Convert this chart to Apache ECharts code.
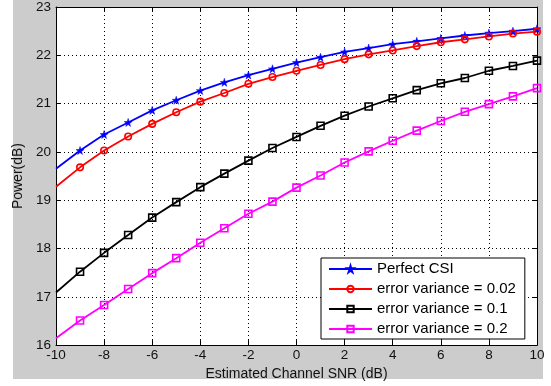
<!DOCTYPE html>
<html>
<head>
<meta charset="utf-8">
<script src="https://cdn.jsdelivr.net/npm/echarts@6/dist/echarts.min.js"></script>
<style>
  html, body { margin: 0; padding: 0; background: #fff; }
  #chart { width: 551px; height: 386px; }
</style>
</head>
<body>
<div id="chart"></div>
<script>
// estimated channel SNR (dB)
const snr = [-10, -9, -8, -7, -6, -5, -4, -3, -2, -1, 0, 1, 2, 3, 4, 5, 6, 7, 8, 9, 10];

// power (dB)
const perfectCsi = [19.65, 20.03, 20.36, 20.61, 20.86, 21.07, 21.27, 21.44, 21.59, 21.72, 21.85, 21.96, 22.07, 22.15, 22.23, 22.29, 22.35, 22.41, 22.46, 22.50, 22.55];
const errVar002 = [19.28, 19.68, 20.03, 20.32, 20.58, 20.82, 21.04, 21.22, 21.41, 21.55, 21.68, 21.80, 21.92, 22.02, 22.10, 22.19, 22.27, 22.33, 22.39, 22.45, 22.49];
const errVar01 = [17.09, 17.52, 17.91, 18.28, 18.64, 18.96, 19.27, 19.55, 19.82, 20.08, 20.31, 20.54, 20.75, 20.94, 21.11, 21.28, 21.42, 21.53, 21.68, 21.78, 21.89];
const errVar02 = [16.14, 16.51, 16.83, 17.16, 17.49, 17.80, 18.12, 18.42, 18.72, 18.97, 19.26, 19.51, 19.78, 20.01, 20.23, 20.44, 20.64, 20.83, 20.99, 21.15, 21.32];

const seriesNames = ['Perfect CSI', 'error variance = 0.02', 'error variance = 0.1', 'error variance = 0.2'];

const starPath = 'path://M50,0 L61,35 L98,35 L68,57 L79,91 L50,70 L21,91 L32,57 L2,35 L39,35 Z';
const font = 'Liberation Sans';

const chart = echarts.init(document.getElementById('chart'), null, { renderer: 'canvas' });

// the first point sits on the left box edge and shows no marker in the original
function pairs(vals) {
  return snr.map((x, i) => (i === 0 ? { value: [x, vals[i]], symbol: 'none' } : [x, vals[i]]));
}

function makeSeries(name, vals, color, symbol, size, hollow) {
  return {
    name: name,
    type: 'line',
    data: pairs(vals),
    symbol: symbol,
    symbolSize: size,
    showAllSymbol: true,
    clip: true,
    lineStyle: { color: color, width: 1.8 },
    itemStyle: hollow
      ? { color: 'rgba(0,0,0,0)', borderColor: color, borderWidth: 1.6 }
      : { color: color, borderColor: color, borderWidth: 0.5 },
    emphasis: { disabled: true },
    z: 3
  };
}

const axisBox = { show: true, onZero: false, lineStyle: { color: '#000', width: 1 } };
const tickIn = { show: true, inside: true, length: 5, lineStyle: { color: '#000' } };
const dotted = { show: true, lineStyle: { color: '#000', type: [1, 3], width: 1 } };

const option = {
  backgroundColor: '#fff',
  animation: false,
  graphic: [
    {
      type: 'rect',
      shape: { x: 13, y: 0, width: 530, height: 379 },
      style: { fill: '#cccccc' },
      z: -10,
      silent: true
    }
  ],
  grid: {
    left: 56, right: 14, top: 7, bottom: 40,
    show: true, backgroundColor: '#fff', borderWidth: 0
  },
  legend: {
    data: seriesNames,
    orient: 'vertical',
    left: 321,
    top: 258,
    padding: [3, 9, 2, 7],
    itemWidth: 43,
    itemHeight: 8,
    itemGap: 4,
    backgroundColor: '#fff',
    borderColor: '#000',
    borderWidth: 1,
    textStyle: { fontFamily: font, fontSize: 15, color: '#000', lineHeight: 16 },
    selectedMode: false
  },
  xAxis: [
    {
      type: 'value', min: -10, max: 10, interval: 2,
      name: 'Estimated Channel SNR (dB)',
      nameLocation: 'middle', nameGap: 17,
      nameTextStyle: { fontFamily: font, fontSize: 14, color: '#111' },
      axisLine: axisBox, axisTick: tickIn,
      axisLabel: { fontFamily: font, fontSize: 13.5, color: '#111', margin: 3 },
      splitLine: dotted
    },
    {
      type: 'value', min: -10, max: 10, interval: 2, position: 'top',
      axisLine: axisBox, axisTick: tickIn,
      axisLabel: { show: false }, splitLine: { show: false }
    }
  ],
  yAxis: [
    {
      type: 'value', min: 16, max: 23, interval: 1,
      name: 'Power(dB)',
      nameLocation: 'middle', nameGap: 28,
      nameTextStyle: { fontFamily: font, fontSize: 14, color: '#111' },
      axisLine: axisBox, axisTick: tickIn,
      axisLabel: { fontFamily: font, fontSize: 13.5, color: '#111', margin: 5 },
      splitLine: dotted
    },
    {
      type: 'value', min: 16, max: 23, interval: 1, position: 'right',
      axisLine: axisBox, axisTick: tickIn,
      axisLabel: { show: false }, splitLine: { show: false }
    }
  ],
  series: [
    makeSeries(seriesNames[0], perfectCsi, '#0000ff', starPath, 8, false),
    makeSeries(seriesNames[1], errVar002, '#ff0000', 'circle', 6.5, true),
    makeSeries(seriesNames[2], errVar01, '#000000', 'rect', 7, true),
    makeSeries(seriesNames[3], errVar02, '#ff00ff', 'rect', 7, true)
  ]
};

chart.setOption(option);
</script>
</body>
</html>
